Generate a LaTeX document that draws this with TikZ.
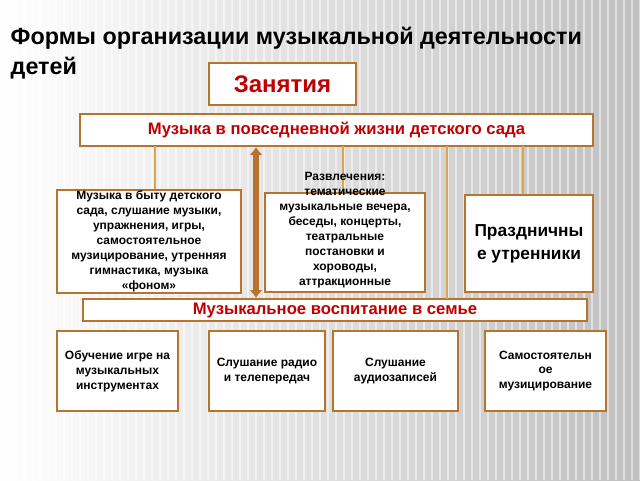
\documentclass[tikz,border=0pt]{standalone}
\usepackage{fontspec}
\setmainfont{Liberation Sans}
\usetikzlibrary{arrows.meta}
\definecolor{brd}{HTML}{B8732E}
\definecolor{rd}{HTML}{C00000}
\definecolor{ln}{HTML}{D9A650}
\begin{document}
\begin{tikzpicture}[x=0.75pt,y=-0.75pt,
  box/.style={draw=brd,line width=1.5pt,fill=white,inner sep=1pt,align=center,font=\bfseries\fontsize{9}{11.2}\selectfont},
  hdr/.style={box,text=rd,font=\bfseries\fontsize{12.5}{14}\selectfont},
  conn/.style={draw=ln,line width=0.8pt}]
\useasboundingbox (0,0) rectangle (640,480);
\shade[left color=white,right color=black!25] (0,0) rectangle (640,480);
\foreach \i in {0,8,...,640} \draw[white,line width=1.5pt,opacity=0.5] (\i,0)--(\i,480);
\node[anchor=west,font=\bfseries\fontsize{17.5}{22}\selectfont,align=left] (title) at (6,53) {Формы организации музыкальной деятельности\\детей};
\node[box,text=rd,font=\bfseries\fontsize{18}{20}\selectfont,minimum width=147*0.75pt,minimum height=42*0.75pt] (zan) at (282.5,84) {Занятия};
\node[hdr,minimum width=513*0.75pt,minimum height=32*0.75pt] (top) at (336.5,130) {Музыка в повседневной жизни детского сада};
\node[hdr,minimum width=504*0.75pt,minimum height=22*0.75pt] (fam) at (335,310) {Музыкальное воспитание в семье};
\coordinate (c1) at (155,146); \coordinate (c2) at (343,146); \coordinate (c3) at (447,146); \coordinate (c4) at (523,146);
\draw[conn] (c1)--(155,193); \draw[conn] (c2)--(343,193); \draw[conn] (c3)--(447,299); \draw[conn] (c4)--(523,195);
\node[box,minimum width=184*0.75pt,minimum height=97*0.75pt] (b1) at (149,241.5) {Музыка в быту детского\\сада, слушание музыки,\\упражнения, игры,\\самостоятельное\\музицирование, утренняя\\гимнастика, музыка\\«фоном»};
\node[box,minimum width=160*0.75pt,minimum height=99*0.75pt] (b2) at (345,242.5) {};
\node[align=center,inner sep=0pt,font=\bfseries\fontsize{9}{11.2}\selectfont] (b2t) at (345,230) {Развлечения:\\тематические\\музыкальные вечера,\\беседы, концерты,\\театральные\\постановки и\\хороводы,\\аттракционные};
\node[box,minimum width=128*0.75pt,minimum height=97*0.75pt,font=\bfseries\fontsize{13}{17}\selectfont] (b3) at (529,243.5) {Праздничны\\е утренники};
\draw[brd,line width=4pt,{Latex[length=6pt,width=10pt]}-{Latex[length=6pt,width=10pt]}] (top.south -| 256,0) -- (fam.north -| 256,0);
\node[box,minimum width=121*0.75pt,minimum height=80*0.75pt] (l1) at (117.5,371) {Обучение игре на\\музыкальных\\инструментах};
\node[box,minimum width=116*0.75pt,minimum height=80*0.75pt] (l2) at (267,371) {Слушание радио\\и телепередач};
\node[box,minimum width=125*0.75pt,minimum height=80*0.75pt] (l3) at (395.5,371) {Слушание\\аудиозаписей};
\node[box,minimum width=121*0.75pt,minimum height=80*0.75pt] (l4) at (545.5,371) {Самостоятельн\\ое\\музицирование};
\end{tikzpicture}
\end{document}
